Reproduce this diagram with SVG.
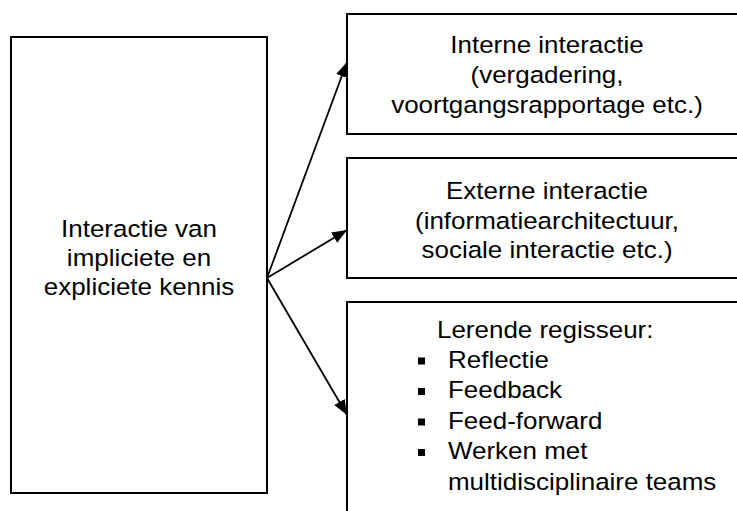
<svg xmlns="http://www.w3.org/2000/svg" width="737" height="511" viewBox="0 0 737 511">
<style>
.box{fill:#fff;stroke:#000;stroke-width:2}
.t{font-family:"Liberation Sans",Arial,sans-serif;font-size:24.5px;fill:#000}
.c{text-anchor:middle}
.conn{stroke:#000;stroke-width:1.8;fill:none}
.bul{fill:#000}
</style>
<defs>
<marker id="ah" markerUnits="userSpaceOnUse" markerWidth="18" markerHeight="14" refX="15" refY="6" orient="auto">
<path d="M0,0 L15,6 L0,12 z" fill="#000"/>
</marker>
</defs>
<rect width="737" height="511" fill="#fff"/>
<g id="source">
<rect class="box" x="11" y="37" width="256" height="456"/>
<g transform="translate(139,0) scale(1.06,1)">
<text class="t c" x="0" y="237">Interactie van</text>
<text class="t c" x="0" y="266">impliciete en</text>
<text class="t c" x="0" y="295">expliciete kennis</text>
</g>
</g>
<g id="intern">
<rect class="box" x="347" y="14" width="400" height="120"/>
<g transform="translate(547,0) scale(1.06,1)">
<text class="t c" x="0" y="53">Interne interactie</text>
<text class="t c" x="0" y="83">(vergadering,</text>
<text class="t c" x="0" y="113">voortgangsrapportage etc.)</text>
</g>
</g>
<g id="extern">
<rect class="box" x="347" y="158" width="400" height="120"/>
<g transform="translate(547,0) scale(1.06,1)">
<text class="t c" x="0" y="199">Externe interactie</text>
<text class="t c" x="0" y="229">(informatiearchitectuur,</text>
<text class="t c" x="0" y="258">sociale interactie etc.)</text>
</g>
</g>
<g id="regisseur">
<rect class="box" x="347" y="302" width="400" height="230"/>
<g transform="translate(437,0) scale(1.06,1)">
<text class="t" x="0" y="338">Lerende regisseur:</text>
</g>
<rect class="bul" x="418" y="357.5" width="7" height="7"/>
<rect class="bul" x="418" y="388" width="7" height="7"/>
<rect class="bul" x="418" y="418.5" width="7" height="7"/>
<rect class="bul" x="418" y="449" width="7" height="7"/>
<g transform="translate(448,0) scale(1.06,1)">
<text class="t" x="0" y="368">Reflectie</text>
<text class="t" x="0" y="398.5">Feedback</text>
<text class="t" x="0" y="429">Feed-forward</text>
<text class="t" x="0" y="459.5">Werken met</text>
<text class="t" x="0" y="490">multidisciplinaire teams</text>
</g>
</g>
<g id="connectors">
<line class="conn" x1="267" y1="278" x2="347" y2="62" marker-end="url(#ah)"/>
<line class="conn" x1="267" y1="278" x2="347" y2="230" marker-end="url(#ah)"/>
<line class="conn" x1="267" y1="278" x2="347" y2="415" marker-end="url(#ah)"/>
</g>
</svg>
